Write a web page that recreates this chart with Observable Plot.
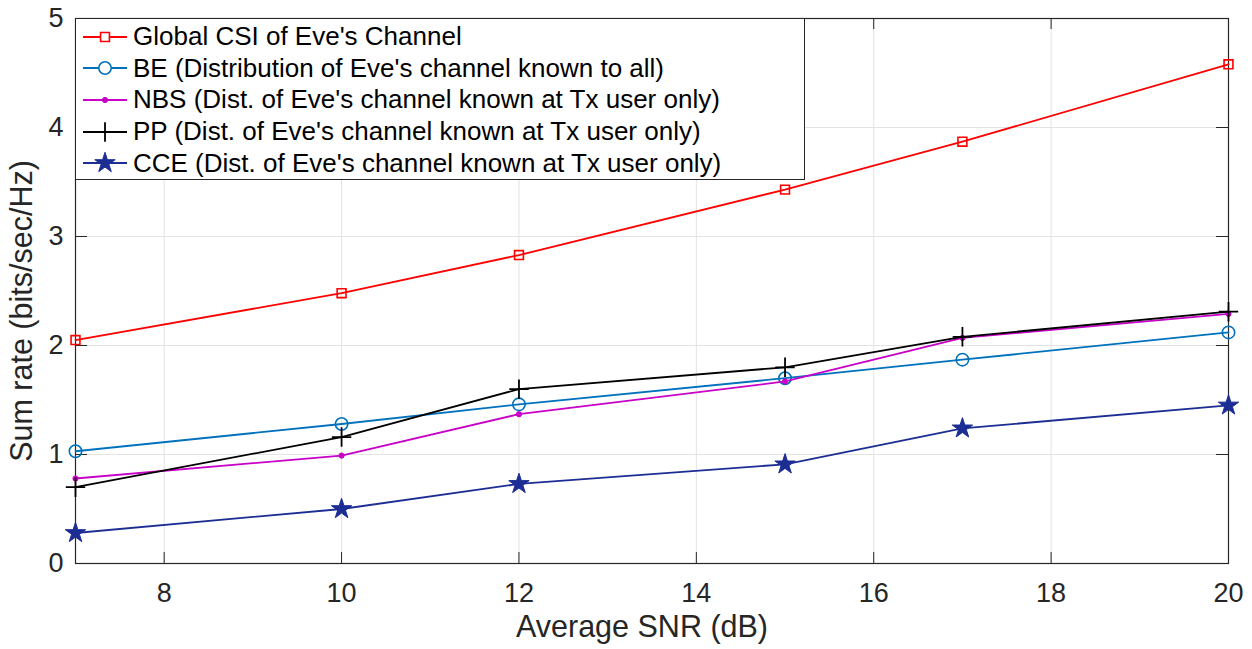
<!DOCTYPE html>
<html>
<head>
<meta charset="utf-8">
<script src="https://cdn.jsdelivr.net/npm/d3@7"></script>
<script src="https://cdn.jsdelivr.net/npm/@observablehq/plot@0.6"></script>
<style>
  body { margin: 0; background: white; }
  #wrap { position: relative; width: 1252px; height: 649px; font-family: "Liberation Sans", Arial, Helvetica, sans-serif; }
  #legend { position: absolute; left: 75px; top: 18px; width: 730px; height: 162px; border: 1px solid #262626; background: white; box-sizing: border-box; padding-top: 2px; }
  .row { display: flex; align-items: center; height: 31.6px; font-size: 26px; color: #000; white-space: nowrap; }
  .row svg { flex: none; margin-left: 6px; margin-right: 5px; }
</style>
</head>
<body>
<div id="wrap"></div>
<script>
// ---- data ----
const snr = [7, 10, 12, 15, 17, 20];
const globalCSI = [2.05, 2.48, 2.83, 3.43, 3.87, 4.58];
const be  = [1.03, 1.28, 1.46, 1.70, 1.87, 2.12];
const nbs = [0.78, 0.99, 1.37, 1.67, 2.07, 2.29];
const pp  = [0.70, 1.16, 1.60, 1.80, 2.08, 2.31];
const cce = [0.28, 0.50, 0.73, 0.91, 1.24, 1.45];
const seriesNames = [
  "Global CSI of Eve's Channel",
  "BE (Distribution of Eve's channel known to all)",
  "NBS (Dist. of Eve's channel known at Tx user only)",
  "PP (Dist. of Eve's channel known at Tx user only)",
  "CCE (Dist. of Eve's channel known at Tx user only)"
];
const seriesValues = [globalCSI, be, nbs, pp, cce];
const xTicks = [8, 10, 12, 14, 16, 18, 20];
const yTicks = [0, 1, 2, 3, 4, 5];
const xLabel = "Average SNR (dB)";
const yLabel = "Sum rate (bits/sec/Hz)";

// ---- styles ----
const styles = [
  {color: "#ff0000", symbol: "square", r: 5.0, fill: "none", sw: 1.6},
  {color: "#0072bd", symbol: "circle", r: 6.2, fill: "none", sw: 1.6},
  {color: "#c800c8", symbol: "circle", r: 2.6, fill: "#c800c8", sw: 1},
  {color: "#000000", symbol: "plus", r: 6.3, fill: "none", sw: 1.8},
  {color: "#1c2d94", symbol: "star", r: 6.4, fill: "#1c2d94", sw: 1}
];

const W = 1252, H = 649, mL = 75, mR = 24, mT = 18, mB = 86;
const fw = W - mL - mR, fh = H - mT - mB;
const axisColor = "#262626";

const marks = [
  Plot.gridX(xTicks, {stroke: "#e3e3e3", strokeOpacity: 1}),
  Plot.gridY(yTicks, {stroke: "#e3e3e3", strokeOpacity: 1}),
  Plot.frame({stroke: axisColor, strokeWidth: 1.2}),
  // inward ticks
  Plot.tickX(xTicks, {x: d => d, stroke: axisColor, insetTop: fh - 11}),
  Plot.tickX(xTicks, {x: d => d, stroke: axisColor, insetBottom: fh - 11}),
  Plot.tickY(yTicks, {y: d => d, stroke: axisColor, insetRight: fw - 12}),
  Plot.tickY(yTicks, {y: d => d, stroke: axisColor, insetLeft: fw - 12}),
  Plot.axisX(xTicks, {tickSize: 0, tickPadding: 19, fontSize: 27, label: null, color: axisColor, tickFormat: d3.format("d")}),
  Plot.axisY(yTicks, {tickSize: 0, tickPadding: 12, fontSize: 27, label: null, color: axisColor, tickFormat: d3.format("d")}),
  Plot.text([xLabel], {frameAnchor: "bottom", dx: -10, dy: 73, fontSize: 30.5, fill: axisColor}),
  Plot.text([yLabel], {frameAnchor: "left", textAnchor: "middle", rotate: -90, dx: -53, dy: 20, fontSize: 30.5, fill: axisColor})
];

seriesValues.forEach((vals, i) => {
  const s = styles[i];
  const data = snr.map((x, j) => ({x, y: vals[j]}));
  marks.push(Plot.line(data, {x: "x", y: "y", stroke: s.color, strokeWidth: 1.8}));
  marks.push(Plot.dot(data, {x: "x", y: "y", symbol: s.symbol, r: s.r, stroke: s.color, fill: s.fill, strokeWidth: s.sw}));
});

const chart = Plot.plot({
  width: W, height: H,
  marginLeft: mL, marginRight: mR, marginTop: mT, marginBottom: mB,
  x: {domain: [7, 20]},
  y: {domain: [0, 5]},
  style: {fontFamily: '"Liberation Sans", Arial, Helvetica, sans-serif', background: "white", color: axisColor},
  marks
});
const wrap = document.getElementById("wrap");
wrap.appendChild(chart);

// ---- legend ----
const legend = document.createElement("div");
legend.id = "legend";
const symMap = {square: d3.symbolSquare, circle: d3.symbolCircle, plus: d3.symbolPlus, star: d3.symbolStar};
seriesNames.forEach((name, i) => {
  const s = styles[i];
  const row = document.createElement("div");
  row.className = "row";
  const svg = d3.create("svg").attr("width", 46).attr("height", 24);
  svg.append("line").attr("x1", 1).attr("x2", 45).attr("y1", 12).attr("y2", 12)
    .attr("stroke", s.color).attr("stroke-width", 1.8);
  svg.append("path").attr("transform", "translate(23,12)")
    .attr("d", d3.symbol(symMap[s.symbol], s.r * s.r * Math.PI)())
    .attr("stroke", s.color).attr("fill", s.fill === "none" ? "white" : s.fill).attr("stroke-width", s.sw);
  row.appendChild(svg.node());
  const span = document.createElement("span");
  span.textContent = name;
  row.appendChild(span);
  legend.appendChild(row);
});
wrap.appendChild(legend);
</script>
</body>
</html>
